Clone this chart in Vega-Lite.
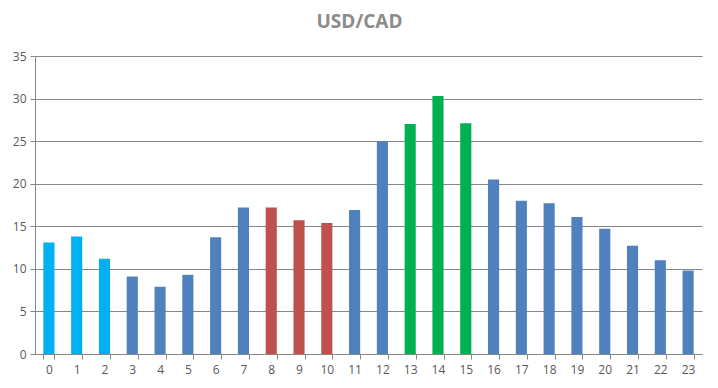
{
  "$schema": "https://vega.github.io/schema/vega-lite/v6.json",
  "width": 667,
  "height": 298,
  "autosize": {"type": "none"},
  "padding": {"left": 35, "top": 56, "right": 16, "bottom": 34},
  "background": "white",
  "view": {"stroke": null},
  "title": {
    "text": "USD/CAD",
    "anchor": "middle",
    "frame": "group",
    "dx": -9,
    "offset": 18,
    "font": "Open Sans",
    "fontSize": 19,
    "fontWeight": "bold",
    "color": "#8C8C8C"
  },
  "data": {
    "values": [
      {"hour": 0, "value": 13.1, "group": "a"},
      {"hour": 1, "value": 13.8, "group": "a"},
      {"hour": 2, "value": 11.2, "group": "a"},
      {"hour": 3, "value": 9.1, "group": "b"},
      {"hour": 4, "value": 7.9, "group": "b"},
      {"hour": 5, "value": 9.3, "group": "b"},
      {"hour": 6, "value": 13.7, "group": "b"},
      {"hour": 7, "value": 17.2, "group": "b"},
      {"hour": 8, "value": 17.2, "group": "c"},
      {"hour": 9, "value": 15.7, "group": "c"},
      {"hour": 10, "value": 15.4, "group": "c"},
      {"hour": 11, "value": 16.9, "group": "b"},
      {"hour": 12, "value": 25.0, "group": "b"},
      {"hour": 13, "value": 27.0, "group": "d"},
      {"hour": 14, "value": 30.3, "group": "d"},
      {"hour": 15, "value": 27.1, "group": "d"},
      {"hour": 16, "value": 20.5, "group": "b"},
      {"hour": 17, "value": 18.0, "group": "b"},
      {"hour": 18, "value": 17.7, "group": "b"},
      {"hour": 19, "value": 16.1, "group": "b"},
      {"hour": 20, "value": 14.7, "group": "b"},
      {"hour": 21, "value": 12.7, "group": "b"},
      {"hour": 22, "value": 11.0, "group": "b"},
      {"hour": 23, "value": 9.8, "group": "b"}
    ]
  },
  "mark": {"type": "bar"},
  "encoding": {
    "x": {
      "field": "hour",
      "type": "ordinal",
      "scale": {"paddingInner": 0.6, "paddingOuter": 0.3},
      "axis": {
        "title": null,
        "labelAngle": 0,
        "tickBand": "extent",
        "ticks": true,
        "tickSize": 5,
        "tickColor": "#868686",
        "domainColor": "#868686",
        "labelColor": "#595959",
        "labelFont": "Open Sans",
        "labelFontSize": 12,
        "labelPadding": 5,
        "grid": false
      }
    },
    "y": {
      "field": "value",
      "type": "quantitative",
      "scale": {"domain": [0, 35], "nice": false},
      "axis": {
        "title": null,
        "values": [0, 5, 10, 15, 20, 25, 30, 35],
        "grid": true,
        "gridColor": "#868686",
        "tickColor": "#868686",
        "tickSize": 5,
        "domainColor": "#868686",
        "labelColor": "#595959",
        "labelFont": "Open Sans",
        "labelFontSize": 12,
        "labelPadding": 4
      }
    },
    "color": {
      "field": "group",
      "type": "nominal",
      "scale": {"domain": ["a", "b", "c", "d"], "range": ["#00B0F0", "#4F81BD", "#C0504D", "#00B050"]},
      "legend": null
    }
  }
}
